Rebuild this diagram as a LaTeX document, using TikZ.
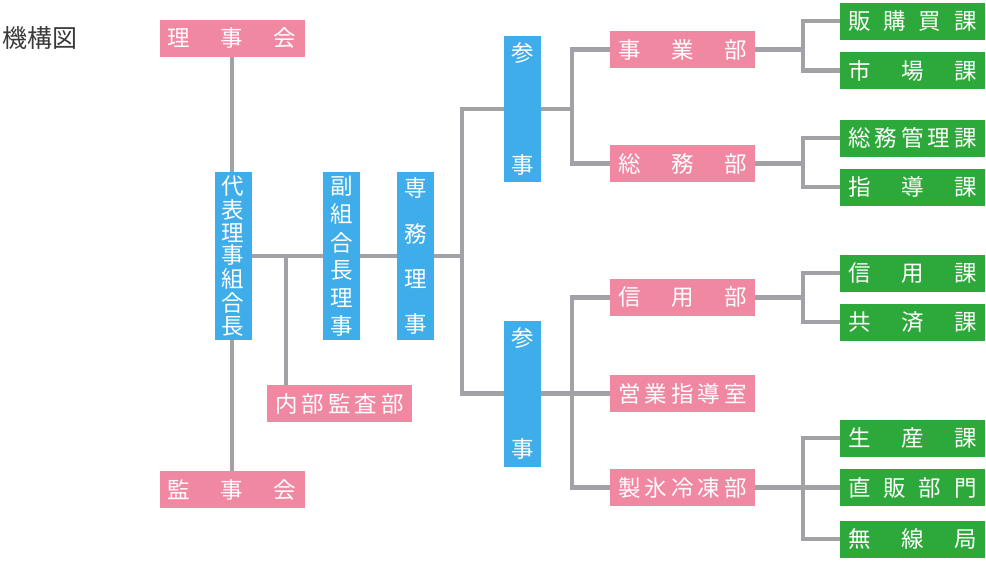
\documentclass[tikz,border=0pt]{standalone}
\usepackage{fontspec}
\newfontfamily\jp{Noto Sans CJK JP}
\definecolor{pinkbox}{HTML}{F088A2}
\definecolor{bluebox}{HTML}{3FADE9}
\definecolor{greenbox}{HTML}{2DA83A}
\definecolor{linegray}{HTML}{A2A2A6}
\definecolor{titlegray}{HTML}{3A3A3A}
\tikzset{
  box/.style={inner sep=0pt, text=white, font=\jp\fontsize{22.5}{22.5}\selectfont, minimum width=145pt, minimum height=37pt},
  pinkb/.style={box, fill=pinkbox},
  greenb/.style={box, fill=greenbox},
  blueb/.style={box, fill=bluebox, minimum width=37pt},
  conn/.style={draw=linegray, line width=4.5pt},
}
\newcommand\hs[1]{\makebox[129pt][s]{#1}}
\newcommand\vs[2]{\vbox to #1{\offinterlineskip #2}}
\begin{document}
\begin{tikzpicture}[x=1pt,y=-1pt]
\fill[white] (0,0) rectangle (986,560);
\useasboundingbox (0,0) rectangle (986,560);
\node[anchor=west, inner sep=0pt, font=\jp\fontsize{25}{25}\selectfont, text=titlegray] (title) at (2,38) {機構図};
% left column
\node[pinkb] (riji) at (232,38) {\hs{理\hfill 事\hfill 会}};
\node[pinkb] (kanji) at (232,489.5) {\hs{監\hfill 事\hfill 会}};
\node[blueb, minimum height=168pt] (daihyo) at (233,256) {\vs{158pt}{\hbox{代}\vfill\hbox{表}\vfill\hbox{理}\vfill\hbox{事}\vfill\hbox{組}\vfill\hbox{合}\vfill\hbox{長}}};
\node[blueb, minimum height=168pt] (fuku) at (341.5,256) {\vs{158pt}{\hbox{副}\vfill\hbox{組}\vfill\hbox{合}\vfill\hbox{長}\vfill\hbox{理}\vfill\hbox{事}}};
\node[blueb, minimum height=168pt] (senmu) at (415.5,256) {\vs{154pt}{\hbox{専}\vfill\hbox{務}\vfill\hbox{理}\vfill\hbox{事}}};
\node[pinkb] (naibu) at (339.5,403.5) {\hs{内\hfill 部\hfill 監\hfill 査\hfill 部}};
% sanji
\node[blueb, minimum height=146pt] (sanji1) at (522.5,109) {\vs{130pt}{\hbox{参}\vfill\hbox{事}}};
\node[blueb, minimum height=146pt] (sanji2) at (522.5,393.5) {\vs{130pt}{\hbox{参}\vfill\hbox{事}}};
% departments
\node[pinkb] (jigyo) at (682.5,49.5) {\hs{事\hfill 業\hfill 部}};
\node[pinkb] (somu) at (682.5,163.5) {\hs{総\hfill 務\hfill 部}};
\node[pinkb] (shinyo) at (682.5,297.5) {\hs{信\hfill 用\hfill 部}};
\node[pinkb] (eigyo) at (682.5,393.5) {\hs{営\hfill 業\hfill 指\hfill 導\hfill 室}};
\node[pinkb] (seihyo) at (682.5,487.5) {\hs{製\hfill 氷\hfill 冷\hfill 凍\hfill 部}};
% sections
\node[greenb] (hanko) at (912.5,21) {\hs{販\hfill 購\hfill 買\hfill 課}};
\node[greenb] (shijo) at (912.5,70.5) {\hs{市\hfill 場\hfill 課}};
\node[greenb] (somukanri) at (912.5,138) {\hs{総\hfill 務\hfill 管\hfill 理\hfill 課}};
\node[greenb] (shido) at (912.5,187) {\hs{指\hfill 導\hfill 課}};
\node[greenb] (shinyoka) at (912.5,273) {\hs{信\hfill 用\hfill 課}};
\node[greenb] (kyosai) at (912.5,322) {\hs{共\hfill 済\hfill 課}};
\node[greenb] (seisan) at (912.5,438) {\hs{生\hfill 産\hfill 課}};
\node[greenb] (chokuhan) at (912.5,487.5) {\hs{直\hfill 販\hfill 部\hfill 門}};
\node[greenb] (musen) at (912.5,539) {\hs{無\hfill 線\hfill 局}};
% junctions
\coordinate (j0) at (286,256);
\coordinate (j1) at (462,256);
\coordinate (k1) at (572,109);
\coordinate (k2) at (572,393.5);
\coordinate (m1) at (803,49.5);
\coordinate (m2) at (803,163.5);
\coordinate (m3) at (803,297.5);
\coordinate (m4) at (803,487.5);
% connectors
\draw[conn] (riji.south) -- (riji.south |- daihyo.north);
\draw[conn] (kanji.north) -- (kanji.north |- daihyo.south);
\draw[conn] (daihyo.east) -- (fuku.west);
\draw[conn] (fuku.east) -- (senmu.west);
\draw[conn] (senmu.east) -- (j1);
\draw[conn] (j0) -- (j0 |- naibu.north);
\draw[conn] (sanji1.west) -| (j1) |- (sanji2.west);
\draw[conn] (sanji1.east) -- (k1);
\draw[conn] (jigyo.west) -| (k1) |- (somu.west);
\draw[conn] (sanji2.east) -- (eigyo.west);
\draw[conn] (shinyo.west) -| (k2) |- (seihyo.west);
\draw[conn] (jigyo.east) -- (m1);
\draw[conn] (hanko.west) -| (m1) |- (shijo.west);
\draw[conn] (somu.east) -- (m2);
\draw[conn] (somukanri.west) -| (m2) |- (shido.west);
\draw[conn] (shinyo.east) -- (m3);
\draw[conn] (shinyoka.west) -| (m3) |- (kyosai.west);
\draw[conn] (seihyo.east) -- (m4);
\draw[conn] (seisan.west) -| (m4) |- (musen.west);
\draw[conn] (m4) -- (chokuhan.west);
\end{tikzpicture}
\end{document}
